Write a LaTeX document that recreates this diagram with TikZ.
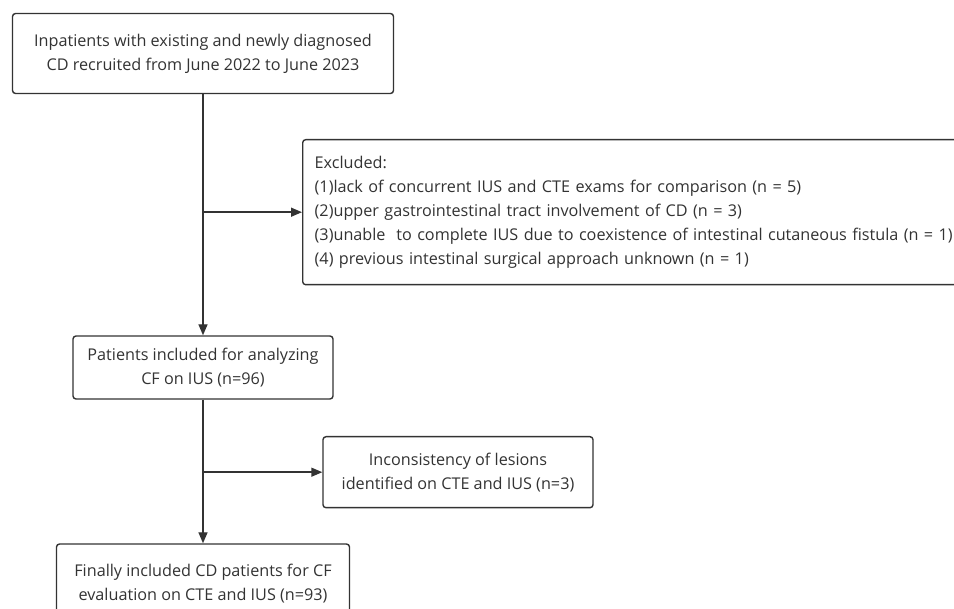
\documentclass[tikz,border=0pt]{standalone}
\usepackage{fontspec}
\setmainfont{Open Sans}
\usetikzlibrary{arrows.meta,positioning}
\definecolor{Ink}{HTML}{333333}

\begin{document}
\begin{tikzpicture}[x=1pt,y=-1pt,every node/.style={font=\fontsize{16.2}{24}\selectfont,text=Ink},box/.style={draw=Ink,line width=1.4pt,rounded corners=3pt,align=center,inner sep=0pt},arrow/.style={draw=Ink,line width=1.4pt,-{Triangle[length=11pt,width=9pt]}}]
\useasboundingbox (0,0) rectangle (954,609);
\clip (0,0) rectangle (954,609);
\fill[white] (0,0) rectangle (954,609);

\node[box,minimum width=381pt,minimum height=80pt] (start) at (203,53.5) {Inpatients with existing and newly diagnosed\\CD recruited from June 2022 to June 2023};
\node[box,anchor=north west,align=left,text width=680pt,inner xsep=12pt,minimum height=145pt] (excl) at (302,139) {Excluded:\\(1)lack of concurrent IUS and CTE exams for comparison (n = 5)\\(2)upper gastrointestinal tract involvement of CD (n = 3)\\(3)unable\ \ to complete IUS due to coexistence of intestinal cutaneous fistula (n = 1)\\(4) previous intestinal surgical approach unknown (n = 1)};
\node[box,minimum width=260pt,minimum height=63pt] (incl) at (203,367.5) {Patients included for analyzing\\CF on IUS (n=96)};
\node[box,minimum width=270pt,minimum height=71pt] (incons) at (458,472.2) {Inconsistency of lesions\\identified on CTE and IUS (n=3)};
\node[box,minimum width=293pt,minimum height=80pt] (final) at (203,584) {Finally included CD patients for CF\\evaluation on CTE and IUS (n=93)};

\draw[arrow] (start.south) -- (incl.north);
\coordinate (b1) at (start.south |- excl.west);
\draw[arrow] (b1) -- (excl.west);
\draw[arrow] (incl.south) -- (final.north);
\coordinate (b2) at (incl.south |- incons.west);
\draw[arrow] (b2) -- (incons.west);
\end{tikzpicture}
\end{document}
